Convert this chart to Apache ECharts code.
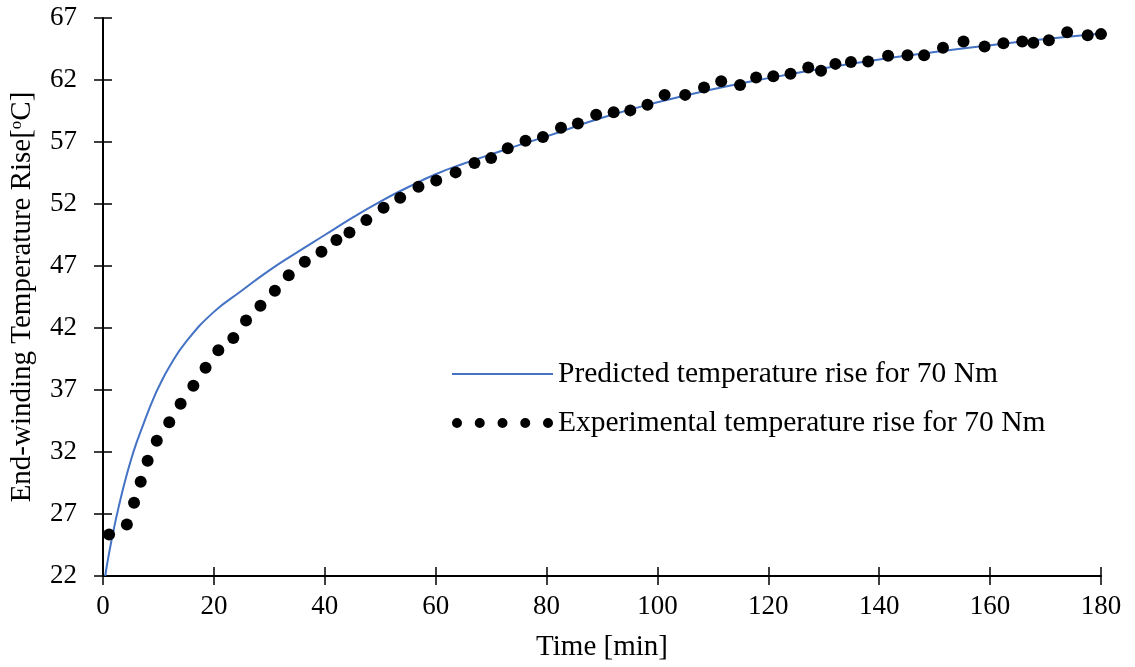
<!DOCTYPE html>
<html lang="en">
<head>
    <meta charset="UTF-8">
    <title>End-winding temperature rise</title>
    <style>
        html, body { margin: 0; padding: 0; background: #fff; }
        #main { width: 1135px; height: 667px; }
    </style>
</head>
<body>
    <div id="main"></div>
    <script src="https://cdn.jsdelivr.net/npm/echarts@6/dist/echarts.min.js"></script>
    <script>
        // predicted curve
        var predTime = [0.4, 1, 2, 3, 4, 5, 6, 7, 8, 9, 10, 12, 15, 20, 25, 30, 35, 40, 45, 50, 55, 60, 65, 70, 75, 80, 90, 100, 110, 120, 130, 140, 150, 160, 170, 180];
        var predTemp = [22.0, 23.6, 25.9, 27.9, 29.7, 31.3, 32.7, 33.9, 35.1, 36.2, 37.2, 38.9, 40.9, 43.3, 45.0, 46.65, 48.1, 49.5, 50.9, 52.2, 53.35, 54.4, 55.25, 56.0, 56.75, 57.45, 58.95, 60.2, 61.25, 62.15, 62.95, 63.65, 64.25, 64.8, 65.3, 65.75];

        // measured points
        var expTime = [1.1, 4.3, 5.6, 6.8, 8.05, 9.7, 11.95, 14.0, 16.3, 18.5, 20.8, 23.5, 25.8, 28.4, 31.0, 33.5, 36.4, 39.4, 42.1, 44.45, 47.5, 50.6, 53.6, 56.9, 60.1, 63.6, 67.0, 70.0, 73.0, 76.2, 79.35, 82.6, 85.65, 88.95, 92.1, 95.1, 98.2, 101.3, 105.0, 108.4, 111.5, 114.9, 117.8, 120.9, 124.0, 127.2, 129.5, 132.1, 134.9, 138.0, 141.6, 145.1, 148.1, 151.5, 155.2, 159.0, 162.4, 165.8, 167.8, 170.6, 173.9, 177.6, 180.0];
        var expTemp = [25.35, 26.16, 27.9, 29.6, 31.3, 32.9, 34.4, 35.9, 37.35, 38.8, 40.2, 41.2, 42.6, 43.8, 45.0, 46.25, 47.35, 48.15, 49.1, 49.7, 50.7, 51.7, 52.5, 53.4, 53.9, 54.55, 55.3, 55.7, 56.5, 57.1, 57.4, 58.15, 58.5, 59.2, 59.4, 59.55, 60.0, 60.8, 60.8, 61.4, 61.9, 61.6, 62.2, 62.3, 62.5, 63.0, 62.75, 63.3, 63.45, 63.5, 63.95, 64.0, 64.0, 64.6, 65.1, 64.7, 64.96, 65.1, 65.0, 65.2, 65.85, 65.6, 65.7];

        var seriesNames = ['Predicted temperature rise for 70 Nm', 'Experimental temperature rise for 70 Nm'];
        var yMin = 22, yMax = 67, yStep = 5;
        var xMin = 0, xMax = 180, xStep = 20;

        var font = '"Liberation Serif", "Times New Roman", serif';
        var black = '#000';
        var blue = '#4472C4';

        function pairs(xs, ys) {
            var out = [];
            for (var i = 0; i < xs.length; i++) out.push([xs[i], ys[i]]);
            return out;
        }

        function circle(cx) {
            return 'M' + (cx - 5) + ',5a5,5 0 1,0 10,0a5,5 0 1,0 -10,0Z';
        }
        // legend markers: thin line, and a row of five dots
        var lineIcon = 'path://M0,0H101V2H0Z';
        var dotsIcon = 'path://' + circle(5) + circle(27.75) + circle(50.5) + circle(73.25) + circle(96);

        var tickStyle = { color: black, width: 1.5 };

        var myChart = echarts.init(document.getElementById('main'));
        var option = {
            animation: false,
            textStyle: { fontFamily: font },
            grid: { left: 103, right: 34, top: 18, bottom: 90 },
            legend: {
                orient: 'vertical',
                left: 447,
                top: 354,
                itemWidth: 101,
                itemHeight: 10,
                itemGap: 19,
                symbolKeepAspect: true,
                textStyle: { fontFamily: font, fontSize: 29.5, color: black },
                data: [
                    { name: seriesNames[0], icon: lineIcon, itemStyle: { color: blue } },
                    { name: seriesNames[1], icon: dotsIcon, itemStyle: { color: black } }
                ]
            },
            xAxis: [
                {
                    // data axis
                    type: 'value',
                    min: xMin,
                    max: xMax,
                    position: 'bottom',
                    name: 'Time [min]',
                    nameLocation: 'middle',
                    nameGap: 57,
                    nameTextStyle: { fontFamily: font, fontSize: 29, color: black },
                    splitLine: { show: false },
                    axisLine: { lineStyle: { color: black, width: 2 } },
                    axisTick: { show: false },
                    axisLabel: { show: false }
                },
                {
                    // ticks crossing the axis line
                    type: 'value',
                    min: xMin,
                    max: xMax,
                    interval: xStep,
                    position: 'bottom',
                    offset: -9,
                    splitLine: { show: false },
                    axisLine: { show: false },
                    axisTick: { show: true, length: 18, lineStyle: tickStyle },
                    axisLabel: { margin: 26, fontFamily: font, fontSize: 27, color: black }
                }
            ],
            yAxis: [
                {
                    // data axis
                    type: 'value',
                    min: yMin,
                    max: yMax,
                    position: 'left',
                    splitLine: { show: false },
                    axisLine: { show: true, lineStyle: { color: black, width: 2 } },
                    axisTick: { show: false },
                    axisLabel: { show: false },
                    name: '{a|End-winding Temperature Rise[}{s|o}{a|C]}',
                    nameLocation: 'middle',
                    nameGap: 66,
                    nameRotate: 90,
                    nameTextStyle: {
                        rich: {
                            a: { fontFamily: font, fontSize: 29, color: black },
                            s: { fontFamily: font, fontSize: 17, color: black, verticalAlign: 'top', padding: [0, 0, 9, 0] }
                        }
                    }
                },
                {
                    // tick/label axis counted from 0 so ticks fall on 22, 27, ...
                    type: 'value',
                    min: 0,
                    max: yMax - yMin,
                    interval: yStep,
                    position: 'left',
                    offset: -9,
                    splitLine: { show: false },
                    axisLine: { show: false },
                    axisTick: { show: true, length: 18, lineStyle: tickStyle },
                    axisLabel: {
                        margin: 35,
                        fontFamily: font,
                        fontSize: 27,
                        color: black,
                        formatter: function (v) { return String(v + yMin); }
                    }
                }
            ],
            series: [
                {
                    name: seriesNames[0],
                    type: 'line',
                    xAxisIndex: 0,
                    yAxisIndex: 0,
                    smooth: true,
                    symbol: 'none',
                    lineStyle: { color: blue, width: 2 },
                    itemStyle: { color: blue },
                    data: pairs(predTime, predTemp),
                    z: 2
                },
                {
                    name: seriesNames[1],
                    type: 'scatter',
                    xAxisIndex: 0,
                    yAxisIndex: 0,
                    symbol: 'circle',
                    symbolSize: 12,
                    itemStyle: { color: black, opacity: 1 },
                    data: pairs(expTime, expTemp),
                    z: 3
                }
            ]
        };
        myChart.setOption(option);

        window.addEventListener('resize', function () {
            myChart.resize();
        });
    </script>
</body>
</html>
